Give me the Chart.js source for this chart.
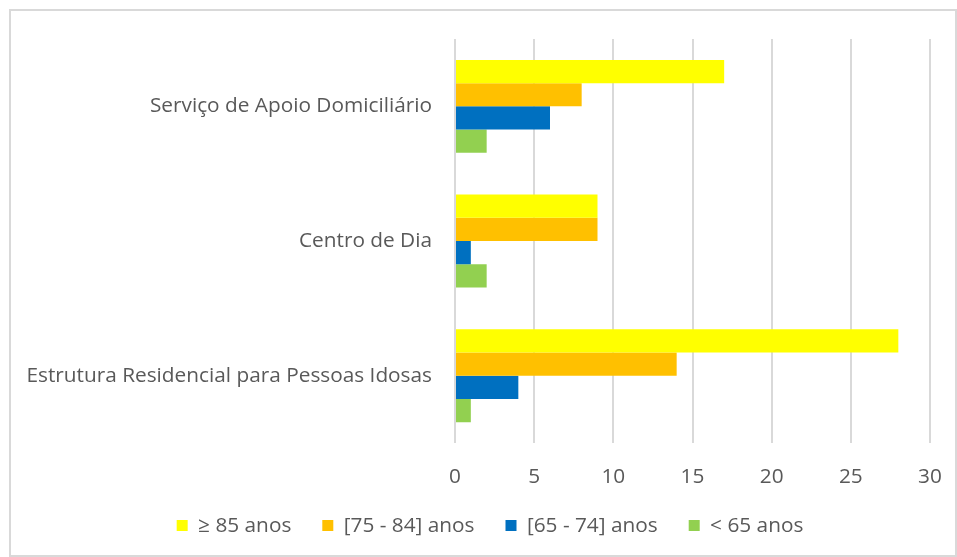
<!DOCTYPE html>
<html>
<head>
<meta charset="utf-8">
<script src="https://cdn.jsdelivr.net/npm/chart.js@4.4.1/dist/chart.umd.min.js"></script>
<style>
  html, body { margin: 0; padding: 0; background: #fff; }
  #frame {
    position: absolute; left: 9px; top: 9px;
    width: 944px; height: 544px;
    border: 2px solid #d9d9d9;
  }
  #wrap { position: absolute; left: 0; top: 0; width: 957px; height: 557px; }
</style>
</head>
<body>
<div id="frame"></div>
<div id="wrap"><canvas id="barChart" width="957" height="557"></canvas></div>
<script>
// categorias e séries
const categories = [
  'Serviço de Apoio Domiciliário',
  'Centro de Dia',
  'Estrutura Residencial para Pessoas Idosas'
];
const seriesNames = ['≥ 85 anos', '[75 - 84] anos', '[65 - 74] anos', '< 65 anos'];
const over85 = [17, 9, 28];
const age75to84 = [8, 9, 14];
const age65to74 = [6, 1, 4];
const under65 = [2, 2, 1];
const xTicks = [0, 5, 10, 15, 20, 25, 30];

const colors = ['#FFFF00', '#FFC000', '#0070C0', '#92D050'];
const allValues = [over85, age75to84, age65to74, under65];

const textColor = '#595959';
const fontFamily = "'Open Sans', 'Liberation Sans', sans-serif";
const fontSize = 20.8;

// décale un peu la légende vers la droite
const legendShift = {
  id: 'legendShift',
  afterLayout(chart) {
    if (chart.legend) {
      chart.legend.left += 25;
      chart.legend.right += 25;
    }
  }
};

const ctx = document.querySelector('#barChart').getContext('2d');
new Chart(ctx, {
  type: 'bar',
  data: {
    labels: categories,
    datasets: allValues.map((vals, i) => ({
      label: seriesNames[i],
      data: vals,
      backgroundColor: colors[i],
      borderWidth: 0,
      categoryPercentage: 0.69,
      barPercentage: 1.0
    }))
  },
  options: {
    indexAxis: 'y',
    responsive: false,
    animation: false,
    layout: { padding: { left: 0, right: 27, top: 39, bottom: 11 } },
    scales: {
      x: {
        min: xTicks[0],
        max: xTicks[xTicks.length - 1],
        afterBuildTicks: axis => { axis.ticks = xTicks.map(v => ({ value: v })); },
        afterFit: axis => {
          axis.height = 41;
          axis.paddingLeft = 0;
          axis.paddingRight = 0;
        },
        grid: { color: '#d9d9d9', lineWidth: 2, drawTicks: false },
        border: { display: false },
        ticks: { color: textColor, font: { family: fontFamily, size: fontSize }, padding: 21 }
      },
      y: {
        afterFit: axis => { axis.width = 455; },
        grid: { display: false, drawTicks: false },
        border: { display: false },
        ticks: { color: textColor, font: { family: fontFamily, size: fontSize }, padding: 23 }
      }
    },
    plugins: {
      legend: {
        position: 'bottom',
        labels: {
          color: textColor,
          font: { family: fontFamily, size: fontSize },
          boxWidth: 11,
          boxHeight: 11,
          padding: 31
        }
      },
      tooltip: { enabled: false }
    }
  },
  plugins: [legendShift]
});
</script>
</body>
</html>
